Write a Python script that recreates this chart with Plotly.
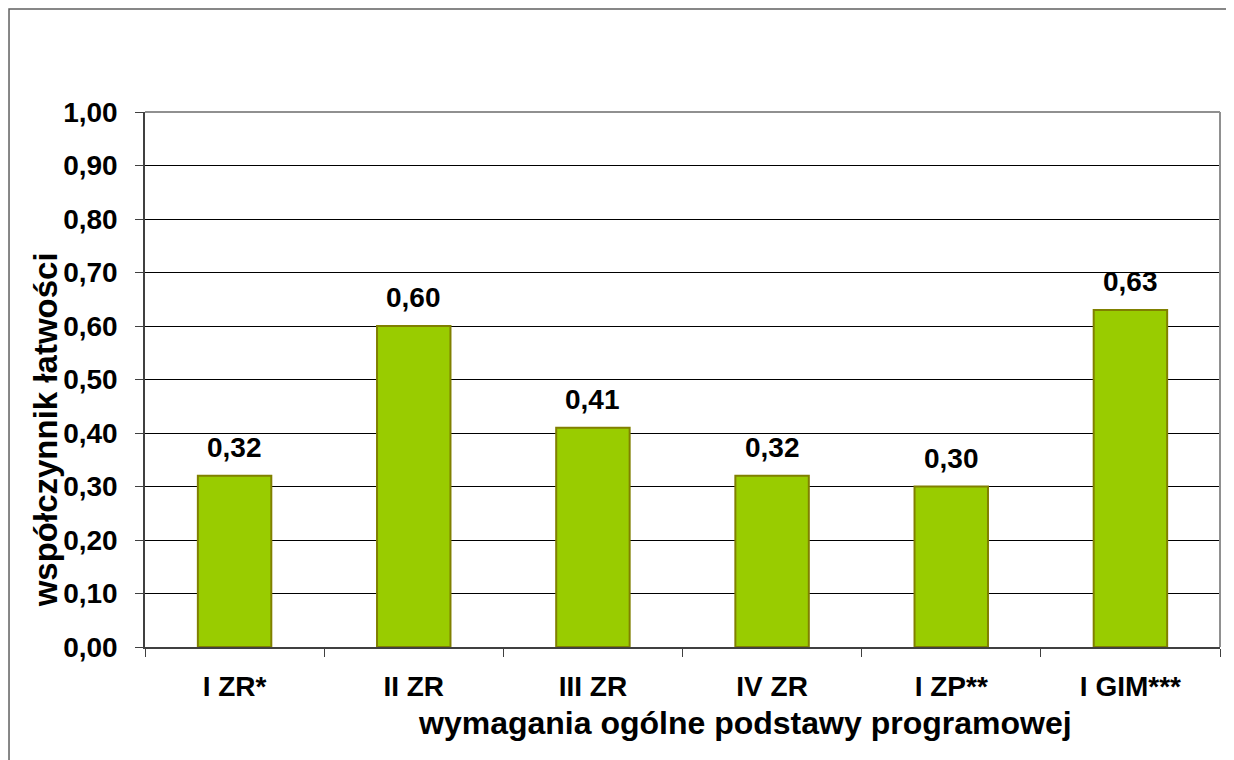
import plotly.graph_objects as go

categories = ["I ZR*", "II ZR", "III ZR", "IV ZR", "I ZP**", "I GIM***"]
values = [0.32, 0.60, 0.41, 0.32, 0.30, 0.63]
y_ticks = [0.0, 0.1, 0.2, 0.3, 0.4, 0.5, 0.6, 0.7, 0.8, 0.9, 1.0]
y_title = "współczynnik łatwości"
x_title = "wymagania ogólne podstawy programowej"

FONT = "Arial, 'Liberation Sans', sans-serif"

fig = go.Figure()
fig.add_trace(go.Bar(
    x=categories, y=values, width=0.41,
    marker=dict(color="#99CC00", line=dict(color="#808000", width=2)),
    hoverinfo="skip",
))

for c, v in zip(categories, values):
    fig.add_annotation(x=c, y=v, text=f"{v:.2f}".replace(".", ","),
                       showarrow=False, yanchor="bottom", yshift=11,
                       font=dict(family=FONT, size=28, color="black", weight="bold"))

fig.add_annotation(xref="paper", yref="paper", x=-0.093, y=0.405,
                   xanchor="center", yanchor="middle",
                   text=y_title, textangle=-90, showarrow=False,
                   font=dict(family=FONT, size=33, color="black", weight="bold"))
fig.add_annotation(xref="paper", yref="paper", x=0.558, y=-0.142,
                   xanchor="center", yanchor="middle",
                   text=x_title, showarrow=False,
                   font=dict(family=FONT, size=32, color="black", weight="bold"))

# outer chart border
fig.add_shape(type="rect", xref="paper", yref="paper", x0=-0.1265, y0=-0.3, x1=1.05, y1=1.1925,
              line=dict(color="#606060", width=1.5), layer="below")
# plot area top/right border
fig.add_shape(type="line", xref="paper", yref="paper", x0=0, y0=1, x1=1, y1=1,
              line=dict(color="#909090", width=2))
fig.add_shape(type="line", xref="paper", yref="paper", x0=1, y0=0, x1=1, y1=1,
              line=dict(color="#909090", width=2))

fig.update_layout(
    width=1218, height=752,
    margin=dict(l=137, r=6, t=104, b=113),
    paper_bgcolor="white", plot_bgcolor="white",
    separators=", ",
    showlegend=False,
    xaxis=dict(
        type="category", tickson="boundaries", ticks="outside", ticklen=8,
        tickcolor="#404040", showline=True, linecolor="#404040", linewidth=1.5,
        tickfont=dict(family=FONT, size=28, color="black", weight="bold"),
        ticklabelstandoff=14, showgrid=False,
    ),
    yaxis=dict(
        range=[0, 1.0], tickvals=y_ticks, tickformat=".2f",
        ticks="outside", ticklen=8, tickcolor="#404040",
        showline=True, linecolor="#404040", linewidth=1.5,
        showgrid=True, gridcolor="black", gridwidth=1,
        tickfont=dict(family=FONT, size=28, color="black", weight="bold"),
        ticklabelstandoff=12, zeroline=False,
    ),
)

fig.write_html("out.html")
